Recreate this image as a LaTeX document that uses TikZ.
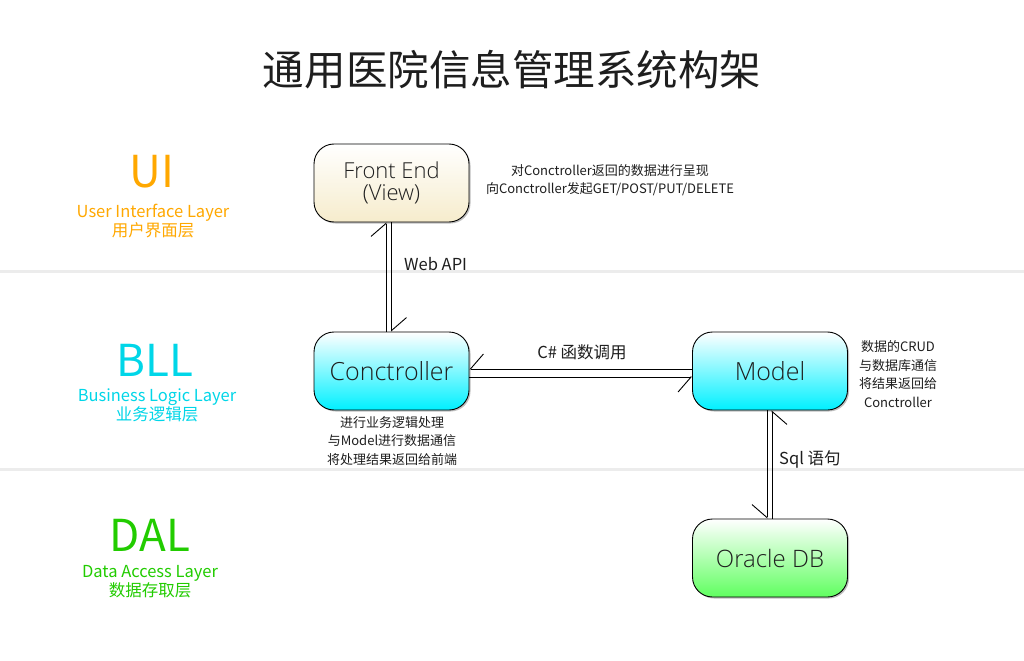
\documentclass[tikz,border=0pt]{standalone}
\usepackage{fontspec}
\setmainfont{Noto Sans CJK SC}
\IfFontExistsTF{Open Sans Light}{\newfontfamily\lt{Open Sans Light}}{%
  \IfFontExistsTF{Lato Light}{\newfontfamily\lt{Lato Light}}{\newfontfamily\lt{Noto Sans CJK SC}}}
\newfontfamily\cjk{Noto Sans CJK SC}
\usetikzlibrary{arrows.meta,shadows,calc}
\definecolor{uiorange}{RGB}{255,168,0}
\definecolor{bllcyan}{RGB}{0,214,232}
\definecolor{dalgreen}{RGB}{34,204,0}
\definecolor{sepgray}{RGB}{236,236,236}
\definecolor{txt}{RGB}{30,30,30}
\tikzset{
  box/.style={draw=black, line width=0.9bp, rounded corners=20bp, minimum width=155bp, minimum height=78bp,
    align=center, text=txt, inner sep=0pt,
    drop shadow={shadow xshift=1.5bp, shadow yshift=-1.5bp, opacity=0.25, fill=black}},
  viewbox/.style={box, top color=white, bottom color={rgb,255:red,246;green,236;blue,204}, font=\lt\fontsize{22bp}{25bp}\selectfont},
  cyanbox/.style={box, top color=white, bottom color={rgb,255:red,0;green,240;blue,255}, font=\lt\fontsize{25bp}{28bp}\selectfont},
  greenbox/.style={box, top color=white, bottom color={rgb,255:red,96;green,255;blue,96}, font=\lt\fontsize{24bp}{28bp}\selectfont},
  layerabbr/.style={font=\fontsize{44bp}{48bp}\selectfont, inner sep=0pt},
  layername/.style={font=\fontsize{16.5bp}{18bp}\selectfont, align=center, inner sep=0pt},
  note/.style={font=\fontsize{13bp}{18.5bp}\selectfont, align=center, text=txt, inner sep=0pt},
  conlabel/.style={font=\fontsize{16.5bp}{18bp}\selectfont, text=txt, inner sep=0pt},
  sep/.style={draw=sepgray, line width=3bp},
  link/.style={draw=black, line width=0.9bp},
  hl/.style={link, -{Straight Barb[harpoon, length=13bp, width=30bp]}},
  hr/.style={link, -{Straight Barb[harpoon, swap, length=13bp, width=30bp]}}
}
\begin{document}
\begin{tikzpicture}[x=1bp, y=-1bp]
\useasboundingbox (0,0) rectangle (1024,661);
\fill[white] (0,0) rectangle (1024,661);
% separators
\coordinate (s1l) at (0,271); \coordinate (s1r) at (1024,271);
\coordinate (s2l) at (0,469); \coordinate (s2r) at (1024,469);
\draw[sep] (s1l) -- (s1r);
\draw[sep] (s2l) -- (s2r);
% title
\node[font=\fontsize{41.5bp}{44bp}\selectfont, text=txt] (title) at (512,70) {通用医院信息管理系统构架};
% layer labels
\node[layerabbr, text=uiorange] (ui) at (152,172) {UI};
\node[layername, text=uiorange] (uin) at (153,213) {User Interface Layer};
\node[layername, text=uiorange] (uic) at (153,230) {用户界面层};
\node[layerabbr, text=bllcyan] (bll) at (155,360) {BLL};
\node[layername, text=bllcyan] (blln) at (157,397) {Business Logic Layer};
\node[layername, text=bllcyan] (bllc) at (157,414) {业务逻辑层};
\node[layerabbr, text=dalgreen] (dal) at (150,535) {DAL};
\node[layername, text=dalgreen] (daln) at (150,573) {Data Access Layer};
\node[layername, text=dalgreen] (dalc) at (150,590) {数据存取层};
% boxes
\node[viewbox] (fe) at (391.5,183) {Front End\\[-3bp](View)};
\node[cyanbox] (ctl) at (391.5,371) {Conctroller};
\node[cyanbox] (mdl) at (770,371) {Model};
\node[greenbox] (db) at (770,558) {Oracle DB};
% notes
\node[note] (fenote) at (610,180) {对Conctroller返回的数据进行呈现\\向Conctroller发起GET/POST/PUT/DELETE};
\node[note] (ctlnote) at (392,441) {进行业务逻辑处理\\与Model进行数据通信\\将处理结果返回给前端};
\node[note] (mdlnote) at (898,374) {数据的CRUD\\与数据库通信\\将结果返回给\\Conctroller};
% connectors
\draw[hl] ($(ctl.north)+(-5.5,0)$) -- ($(fe.south)+(-5.5,0)$);
\draw[hl] ($(fe.south)+(0,0)$) -- ($(ctl.north)+(0,0)$);
\draw[hr] ($(mdl.west)+(0,-2)$) -- ($(ctl.east)+(0,-2)$);
\draw[hr] ($(ctl.east)+(0,6)$) -- ($(mdl.west)+(0,6)$);
\draw[hr] ($(db.north)+(2,0)$) -- ($(mdl.south)+(2,0)$);
\draw[hr] ($(mdl.south)+(-3,0)$) -- ($(db.north)+(-3,0)$);
% connector labels
\node[conlabel, anchor=west] (webapi) at (404,264) {Web API};
\node[conlabel] (cs) at (582,352) {C\# 函数调用};
\node[conlabel, anchor=west] (sql) at (779,459) {Sql 语句};
\end{tikzpicture}
\end{document}
